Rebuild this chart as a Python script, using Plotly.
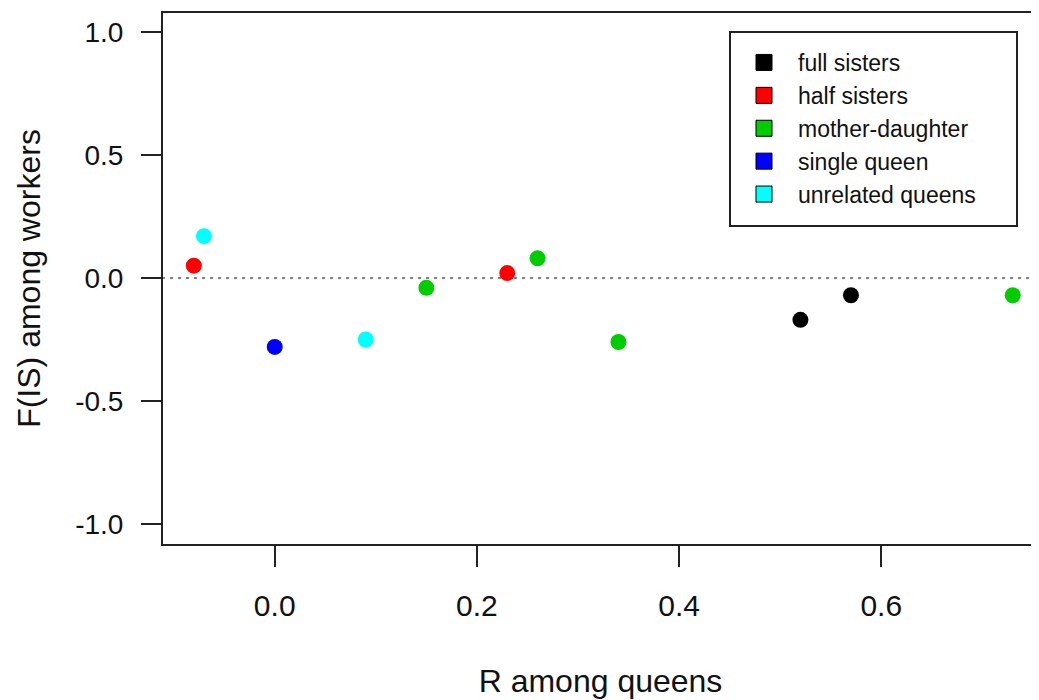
import plotly.graph_objects as go

# ---- data ----
groups = ["full sisters", "half sisters", "mother-daughter", "single queen", "unrelated queens"]
colors = ["#000000", "#FF0000", "#00CD00", "#0000FF", "#00FFFF"]
r_full = [0.52, 0.57]
f_full = [-0.17, -0.07]
r_half = [-0.08, 0.23]
f_half = [0.05, 0.02]
r_md = [0.15, 0.26, 0.34, 0.73]
f_md = [-0.04, 0.08, -0.26, -0.07]
r_single = [0.00]
f_single = [-0.28]
r_unrel = [-0.07, 0.09]
f_unrel = [0.17, -0.25]

x_tickvals = [0.0, 0.2, 0.4, 0.6]
x_ticktext = ["0.0", "0.2", "0.4", "0.6"]
y_tickvals = [1.0, 0.5, 0.0, -0.5, -1.0]
y_ticktext = ["1.0", "0.5", "0.0", "-0.5", "-1.0"]

xs = [r_full, r_half, r_md, r_single, r_unrel]
ys = [f_full, f_half, f_md, f_single, f_unrel]

FONT = "Liberation Sans, Arial, sans-serif"

# page body has an 8px margin: figure occupies window x 8..1039, y 8..700
W, H = 1031, 692
ML, MT, MB = 154, 4, 155
PW = W - ML          # plot width in px
PH = H - MT - MB     # plot height in px

fig = go.Figure()
for name, col, x, y in zip(groups, colors, xs, ys):
    fig.add_trace(go.Scatter(x=x, y=y, mode="markers", showlegend=False,
                             marker=dict(color=col, size=16, line=dict(width=0)),
                             name=name))
# legend entries (square keys)
for name, col in zip(groups, colors):
    fig.add_trace(go.Scatter(x=[None], y=[None], mode="markers", name=name,
                             marker=dict(color=col, symbol="square", size=16,
                                         line=dict(color="#000000", width=1))))

def px_x(wx):  # window x -> paper
    return (wx - 8 - ML) / PW

def px_y(wy):  # window y -> paper
    return (H - MB - (wy - 8)) / PH

# dotted zero line
fig.add_shape(type="line", xref="paper", yref="y", x0=0, x1=1, y0=0, y1=0,
              line=dict(color="#808080", width=2, dash="3px,5px"), layer="below")
# plot box (right side extends beyond the page)
fig.add_shape(type="rect", xref="paper", yref="paper", x0=0, x1=1.02, y0=0, y1=1,
              line=dict(color="#222222", width=2))
# legend frame
fig.add_shape(type="rect", xref="paper", yref="paper",
              x0=px_x(730), x1=px_x(1017), y0=px_y(226), y1=px_y(32),
              line=dict(color="#222222", width=2))

fig.update_layout(
    width=W, height=H,
    margin=dict(l=ML, r=0, t=MT, b=MB),
    paper_bgcolor="white", plot_bgcolor="white",
    font=dict(family=FONT, size=28, color="#111111"),
    showlegend=True,
    legend=dict(x=px_x(730), y=px_y(41), xanchor="left", yanchor="top",
                bgcolor="rgba(0,0,0,0)", borderwidth=0,
                font=dict(family=FONT, size=23, color="#111111"),
                itemwidth=58),
    xaxis=dict(range=[-0.1115, 0.756], tickvals=x_tickvals, ticktext=x_ticktext,
               showgrid=False, zeroline=False, showline=False,
               ticks="outside", ticklen=21, tickwidth=2, tickcolor="#222222",
               ticklabelstandoff=13, tickfont=dict(size=30),
               title=dict(text="R among queens", font=dict(size=32), standoff=48)),
    yaxis=dict(range=[-1.085, 1.081], tickvals=y_tickvals, ticktext=y_ticktext,
               showgrid=False, zeroline=False, showline=False,
               ticks="outside", ticklen=20, tickwidth=2, tickcolor="#222222",
               ticklabelstandoff=12, tickfont=dict(size=28),
               title=dict(text="F(IS) among workers", font=dict(size=32), standoff=24)),
)

fig.write_html("out.html")
